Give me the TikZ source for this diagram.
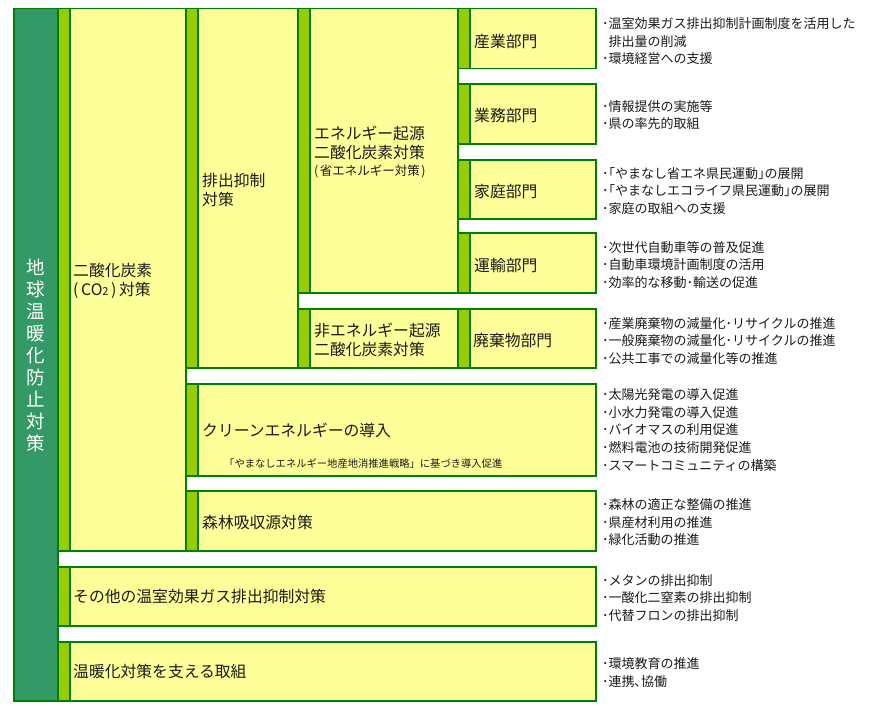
\documentclass[tikz,border=0pt]{standalone}
\usepackage{fontspec}
\setmainfont{Noto Sans CJK JP}
\definecolor{dgr}{HTML}{008000}
\definecolor{sea}{HTML}{339966}
\definecolor{lgr}{HTML}{99CC00}
\definecolor{yel}{HTML}{FFFF99}
\definecolor{txt}{HTML}{1A1A1A}
\newcommand{\cellbox}[4]{%
  \fill[yel] (#1,#2) rectangle (#3,#4);
  \fill[lgr] (#1,#2) rectangle ({#1+12},#4);
  \draw[frame] (#1,#2) rectangle (#3,#4);
  \draw[frame] ({#1+12},#2) -- ({#1+12},#4);
}
\begin{document}
\begin{tikzpicture}[x=1pt,y=-1pt,
  frame/.style={draw=dgr, line width=1.9pt},
  bigtxt/.style={anchor=west, inner sep=0pt, text=txt, font=\fontsize{15.8}{19.5}\selectfont, align=left},
  smalltxt/.style={anchor=west, inner sep=0pt, text=txt, font=\fontsize{10.3}{12}\selectfont},
  listtxt/.style={anchor=west, inner sep=0pt, text=txt, font=\fontsize{13}{17.6}\selectfont, align=left}]
\useasboundingbox (0,0) rectangle (876,707);
% left column
\fill[sea] (14,8.5) rectangle (58,700.7);
\draw[frame] (14,8.5) rectangle (58,700.7);
\node[name=main, inner sep=0pt, text=white, align=center, font=\fontsize{18.5}{22}\selectfont] at (36,355)
  {地\\球\\温\\暖\\化\\防\\止\\対\\策};
% cells
\cellbox{58}{8.5}{186}{551}
\cellbox{186}{8.5}{298}{368}
\cellbox{298}{8.5}{458}{292.7}
\cellbox{298}{309}{458}{368}
\cellbox{458}{8.5}{596}{68.5}
\cellbox{458}{84}{596}{144}
\cellbox{458}{160}{596}{219}
\cellbox{458}{233.3}{596}{292.7}
\cellbox{458}{309}{596}{368}
\cellbox{186}{384}{596}{476}
\cellbox{186}{491}{596}{551}
\cellbox{58}{567}{596}{626}
\cellbox{58}{642}{596}{700.7}
% box texts
\node[bigtxt, name=co2] at (73,281) {二酸化炭素\\(\,CO{\fontsize{11}{11}\selectfont 2}\,)\,対策};
\node[bigtxt, name=yokusei] at (202,190) {排出抑制\\対策};
\node[bigtxt, name=energy] at (314,142.8) {エネルギー起源\\二酸化炭素対策};
\node[anchor=west, inner sep=0pt, text=txt, font=\fontsize{12.5}{14}\selectfont, name=shoene] at (314,171.7) {(\hspace{1.5pt}省エネルギー対策\hspace{1.5pt})};
\node[bigtxt, name=sangyo] at (474,41.7) {産業部門};
\node[bigtxt, name=gyomu] at (474,115.7) {業務部門};
\node[bigtxt, name=katei] at (474,191.7) {家庭部門};
\node[bigtxt, name=unyu] at (474,265.7) {運輸部門};
\node[bigtxt, name=nonenergy] at (314,340) {非エネルギー起源\\二酸化炭素対策};
\node[bigtxt, name=haiki] at (473,341) {廃棄物部門};
\node[bigtxt, name=clean] at (202,430.7) {クリーンエネルギーの導入};
\node[smalltxt, name=senryaku] at (224,463.3) {「やまなしエネルギー地産地消推進戦略」に基づき導入促進};
\node[bigtxt, name=shinrin] at (202,522.7) {森林吸収源対策};
\node[bigtxt, name=sonota] at (73,596.7) {その他の温室効果ガス排出抑制対策};
\node[bigtxt, name=sasaeru] at (73,671.7) {温暖化対策を支える取組};
% lists
\node[listtxt, name=l1] at (602,41.3) {･温室効果ガス排出抑制計画制度を活用した\\\hphantom{･}排出量の削減\\･環境経営への支援};
\node[listtxt, name=l2] at (602,115) {･情報提供の実施等\\･県の率先的取組};
\node[listtxt, name=l3] at (602,190.8) {･｢やまなし省エネ県民運動｣の展開\\･｢やまなしエコライフ県民運動｣の展開\\･家庭の取組への支援};
\node[listtxt, name=l4] at (602,265) {･次世代自動車等の普及促進\\･自動車環境計画制度の活用\\･効率的な移動･輸送の促進};
\node[listtxt, name=l5] at (602,340.8) {･産業廃棄物の減量化･リサイクルの推進\\･一般廃棄物の減量化･リサイクルの推進\\･公共工事での減量化等の推進};
\node[listtxt, name=l6] at (602,430) {･太陽光発電の導入促進\\･小水力発電の導入促進\\･バイオマスの利用促進\\･燃料電池の技術開発促進\\･スマートコミュニティの構築};
\node[listtxt, name=l7] at (602,522.2) {･森林の適正な整備の推進\\･県産材利用の推進\\･緑化活動の推進};
\node[listtxt, name=l8] at (602,597.7) {･メタンの排出抑制\\･一酸化二窒素の排出抑制\\･代替フロンの排出抑制};
\node[listtxt, name=l9] at (602,672.5) {･環境教育の推進\\･連携､協働};
\end{tikzpicture}
\end{document}
